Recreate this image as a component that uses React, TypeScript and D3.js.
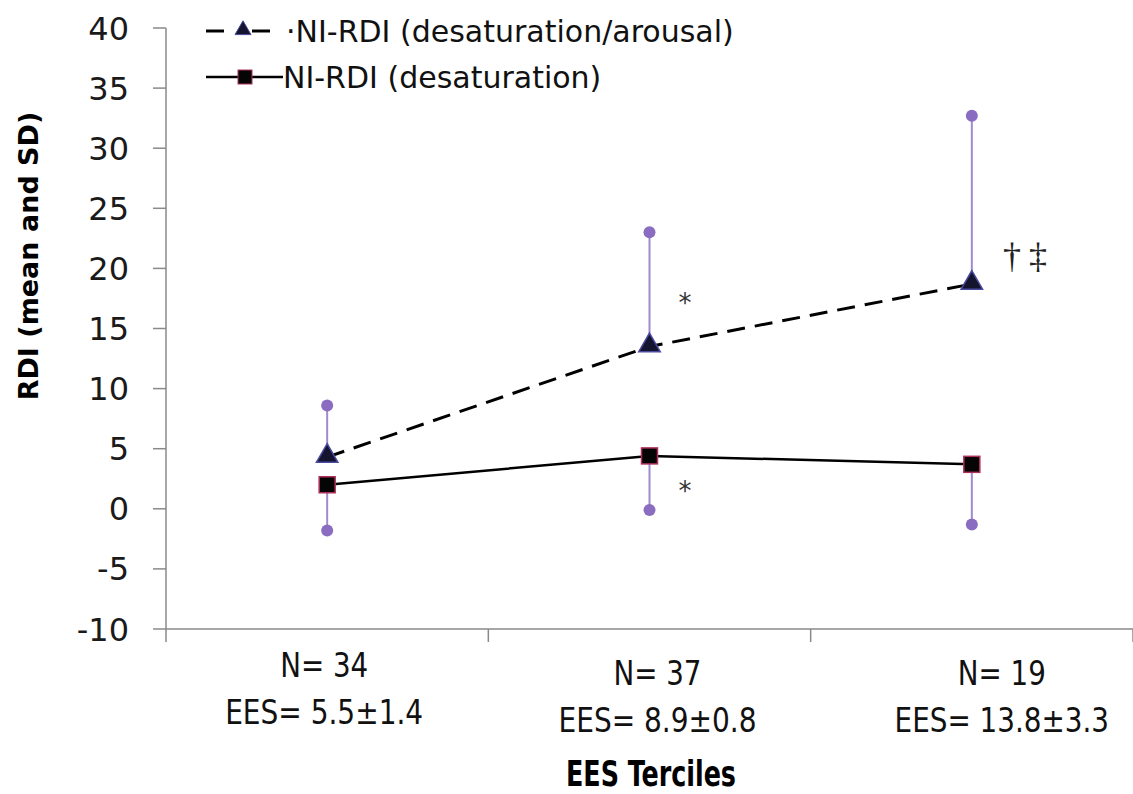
import React from 'react';
import * as d3 from 'd3';

// EES terciles
const categories = ['T1', 'T2', 'T3'];
const nLabels = ['N= 34', 'N= 37', 'N= 19'];
const eesLabels = ['EES= 5.5±1.4', 'EES= 8.9±0.8', 'EES= 13.8±3.3'];

// NI-RDI (desaturation/arousal): mean and mean+SD
const arousalMean = [4.3, 13.5, 18.7];
const arousalUpper = [8.6, 23.0, 32.7];

// NI-RDI (desaturation): mean and mean-SD
const desatMean = [2.0, 4.4, 3.7];
const desatLower = [-1.8, -0.1, -1.3];

const yTicks = [40, 35, 30, 25, 20, 15, 10, 5, 0, -5, -10];

const W = 1133;
const H = 794;
const purple = '#a08ad0';
const purpleDot = '#8a6cc0';
const font = '"DejaVu Sans", Verdana, sans-serif';
const condensed = '"DejaVu Sans Condensed", "DejaVu Sans", sans-serif';

const x = d3.scaleBand<string>().domain(categories).range([166, 1133]);
const y = d3.scaleLinear().domain([-10, 40]).range([629, 28]);
const cx = (i: number) => (x(categories[i]) as number) + x.bandwidth() / 2;

const line = d3.line<number>().x((_, i) => cx(i)).y(d => y(d));
const tri = d3.symbol(d3.symbolTriangle, 200);
const triSmall = d3.symbol(d3.symbolTriangle, 110);

export default function App() {
  const bandEdges = [...categories.map(c => x(c) as number), x.range()[1]];
  // the category text blocks are not centred on the points in the original
  const labelDx = [-3, 8, 30];
  const labelDy = [0, 8, 8];
  return (
    <svg width={W} height={H} style={{ display: 'block', position: 'absolute', left: 0, top: 0 }}>
      <rect width={W} height={H} fill="#fff" />

      {/* axes */}
      <line x1={166} x2={166} y1={y(40)} y2={y(-10)} stroke="#8a8a8a" strokeWidth={1.5} />
      <line x1={166} x2={W} y1={y(-10)} y2={y(-10)} stroke="#8a8a8a" strokeWidth={1.5} />
      {yTicks.map(t => (
        <g key={t}>
          <line x1={153} x2={166} y1={y(t)} y2={y(t)} stroke="#8a8a8a" strokeWidth={1.5} />
          <text x={129} y={y(t)} dy="0.36em" textAnchor="end" fontFamily={font} fontSize={32} fill="#1a1a1a">
            {t}
          </text>
        </g>
      ))}
      {bandEdges.map((e, i) => (
        <line key={i} x1={e} x2={e} y1={y(-10)} y2={y(-10) + 13} stroke="#8a8a8a" strokeWidth={1.5} />
      ))}

      {/* category labels */}
      {categories.map((c, i) => (
        <g key={c}>
          <text x={cx(i) + labelDx[i]} y={677 + labelDy[i]} textAnchor="middle" fontFamily={condensed}
            fontSize={33} fill="#111" textLength={88} lengthAdjust="spacingAndGlyphs">
            {nLabels[i]}
          </text>
          <text x={cx(i) + labelDx[i]} y={724 + labelDy[i]} textAnchor="middle" fontFamily={condensed}
            fontSize={33} fill="#111" textLength={eesLabels[i].length * 16.5} lengthAdjust="spacingAndGlyphs">
            {eesLabels[i]}
          </text>
        </g>
      ))}

      {/* axis titles */}
      <text x={651} y={786} textAnchor="middle" fontFamily={condensed} fontWeight="bold"
        fontSize={35} fill="#000" textLength={170} lengthAdjust="spacingAndGlyphs">
        EES Terciles
      </text>
      <text transform={`translate(38, 256) rotate(-90)`} textAnchor="middle" fontFamily={font} fontWeight="bold"
        fontSize={27} fill="#000">
        RDI (mean and SD)
      </text>

      {/* error bars */}
      {arousalMean.map((m, i) => (
        <g key={'ua' + i}>
          <line x1={cx(i)} x2={cx(i)} y1={y(m)} y2={y(arousalUpper[i])} stroke={purple} strokeWidth={2} />
          <circle cx={cx(i)} cy={y(arousalUpper[i])} r={6} fill={purpleDot} />
        </g>
      ))}
      {desatMean.map((m, i) => (
        <g key={'ld' + i}>
          <line x1={cx(i)} x2={cx(i)} y1={y(m)} y2={y(desatLower[i])} stroke={purple} strokeWidth={2} />
          <circle cx={cx(i)} cy={y(desatLower[i])} r={6} fill={purpleDot} />
        </g>
      ))}

      {/* series lines */}
      <path d={line(arousalMean) as string} fill="none" stroke="#000" strokeWidth={3} strokeDasharray="18 10" />
      <path d={line(desatMean) as string} fill="none" stroke="#000" strokeWidth={2.5} />

      {/* markers */}
      {arousalMean.map((m, i) => (
        <path key={'t' + i} d={tri() as string} transform={`translate(${cx(i)},${y(m) - 1})`}
          fill="#14142e" stroke="#4a4aa0" strokeWidth={1.5} />
      ))}
      {desatMean.map((m, i) => (
        <rect key={'s' + i} x={cx(i) - 8} y={y(m) - 8} width={16} height={16}
          fill="#050505" stroke="#b0305a" strokeWidth={1.5} />
      ))}

      {/* significance marks */}
      <text x={685} y={312} textAnchor="middle" fontFamily={font} fontSize={26} fill="#333">*</text>
      <text x={685} y={500} textAnchor="middle" fontFamily={font} fontSize={26} fill="#333">*</text>
      <text x={1012} y={268} textAnchor="middle" fontFamily='"Liberation Serif", serif' fontSize={36} fill="#222">†</text>
      <text x={1038} y={268} textAnchor="middle" fontFamily='"Liberation Serif", serif' fontSize={36} fill="#222">‡</text>

      {/* legend */}
      <g fontFamily={font} fontSize={30} fill="#111">
        <line x1={206} x2={224} y1={31} y2={31} stroke="#000" strokeWidth={3} />
        <line x1={252} x2={270} y1={31} y2={31} stroke="#000" strokeWidth={3} />
        <path d={triSmall() as string} transform={`translate(243,30)`} fill="#14142e" stroke="#4a4aa0" strokeWidth={1} />
        <text x={286} y={31} dy="0.35em">·NI-RDI (desaturation/arousal)</text>

        <line x1={206} x2={283} y1={77} y2={77} stroke="#000" strokeWidth={2.5} />
        <rect x={238} y={70} width={14} height={14} fill="#050505" stroke="#b0305a" strokeWidth={1} />
        <text x={283} y={77} dy="0.35em">NI-RDI (desaturation)</text>
      </g>
    </svg>
  );
}
